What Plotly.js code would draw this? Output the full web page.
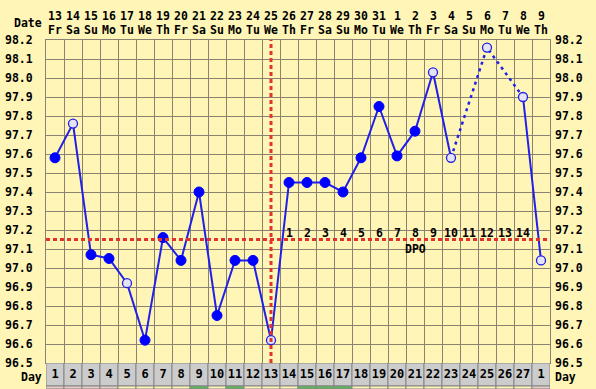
<!DOCTYPE html>
<html><head><meta charset="utf-8">
<script src="https://cdn.plot.ly/plotly-3.0.1.min.js"></script>
<style>html,body{margin:0;padding:0;background:#FEF5B7;}#chart{width:596px;height:389px;}</style>
</head><body><div id="chart"></div>
<script>
const days = Array.from({length: 28}, (_, i) => i + 1);
const dayLabels = ['1','2','3','4','5','6','7','8','9','10','11','12','13','14','15','16','17','18','19','20','21','22','23','24','25','26','27','1'];
const dates = ['13','14','15','16','17','18','19','20','21','22','23','24','25','26','27','28','29','30','31','1','2','3','4','5','6','7','8','9'];
const weekdays = ['Fr','Sa','Su','Mo','Tu','We','Th','Fr','Sa','Su','Mo','Tu','We','Th','Fr','Sa','Su','Mo','Tu','We','Th','Fr','Sa','Su','Mo','Tu','We','Th'];
const temps = [97.58, 97.76, 97.07, 97.05, 96.92, 96.62, 97.16, 97.04, 97.40, 96.75, 97.04, 97.04, 96.62, 97.45, 97.45, 97.45, 97.40, 97.58, 97.85, 97.59, 97.72, 98.03, 97.58, null, 98.16, null, 97.90, 97.04];
const hollow = [false, true, false, false, true, false, false, false, false, false, false, false, true, false, false, false, false, false, false, false, false, true, true, false, true, false, true, true];
const stripColors = ['#E8CCC4','#E8CCC4','#E8CCC4','#E8CCC4','#FEF5B7','#FEF5B7','#FEF5B7','#FEF5B7','#5DB85D','#FEF5B7','#5DB85D','#FEF5B7','#FEF5B7','#FEF5B7','#5DB85D','#5DB85D','#5DB85D','#FEF5B7','#FEF5B7','#FEF5B7','#FEF5B7','#FEF5B7','#FEF5B7','#FEF5B7','#FEF5B7','#FEF5B7','#FEF5B7','#E8CCC4'];
const coverline = 97.15;
const ovulationDay = 13;
const dpoDays = days.slice(13, 27);
const dpoLabels = dpoDays.map((d, i) => String(i + 1));
const dpoTextDay = 21;
const yTicks = [96.5,96.6,96.7,96.8,96.9,97.0,97.1,97.2,97.3,97.4,97.5,97.6,97.7,97.8,97.9,98.0,98.1,98.2];

const BG = '#FEF5B7', GRID = '#8C8274', BLUE = '#2020E8', RED = '#E0342C';
const FONT = {family: 'DejaVu Sans Mono', size: 11.5, color: '#000', weight: 'bold'};

const solid1x = [], solid1y = [];
for (let i = 0; i < 23; i++) { solid1x.push(days[i]); solid1y.push(temps[i]); }
const dotX = [days[22], days[24], days[26]], dotY = [temps[22], temps[24], temps[26]];
const solid2x = [days[26], days[27]], solid2y = [temps[26], temps[27]];

const fx = [], fy = [], hx = [], hy = [];
days.forEach((d, i) => { if (temps[i] !== null) { if (hollow[i]) { hx.push(d); hy.push(temps[i]); } else { fx.push(d); fy.push(temps[i]); } } });

const traces = [
  {x: solid1x, y: solid1y, mode: 'lines', line: {color: BLUE, width: 2}, xaxis: 'x', yaxis: 'y', hoverinfo: 'skip', showlegend: false},
  {x: dotX, y: dotY, mode: 'lines', line: {color: BLUE, width: 2.5, dash: '3px,4px'}, xaxis: 'x', yaxis: 'y', hoverinfo: 'skip', showlegend: false},
  {x: solid2x, y: solid2y, mode: 'lines', line: {color: BLUE, width: 2}, xaxis: 'x', yaxis: 'y', hoverinfo: 'skip', showlegend: false},
  {x: fx, y: fy, mode: 'markers', marker: {color: '#0000FF', size: 10, opacity: 1, line: {color: '#0000FF', width: 1}}, cliponaxis: false, xaxis: 'x', yaxis: 'y', hoverinfo: 'skip', showlegend: false},
  {x: hx, y: hy, mode: 'markers', marker: {color: '#E4E4F6', size: 9, opacity: 1, line: {color: BLUE, width: 1.3}}, cliponaxis: false, xaxis: 'x', yaxis: 'y', hoverinfo: 'skip', showlegend: false},
  {x: days, y: days.map(() => 23), base: 3, type: 'bar', width: 1, marker: {color: '#CCCCCC', line: {color: '#858585', width: 1}}, text: dayLabels, textposition: 'inside', insidetextanchor: 'middle', textangle: 0, constraintext: 'none', textfont: {family: 'DejaVu Sans Mono', size: 12, color: '#000', weight: 'bold'}, xaxis: 'x', yaxis: 'y2', hoverinfo: 'skip', showlegend: false},
  {x: days, y: days.map(() => 3), base: 0, type: 'bar', width: 1, marker: {color: stripColors, line: {color: '#858585', width: 1}}, xaxis: 'x', yaxis: 'y2', hoverinfo: 'skip', showlegend: false},
  {x: [1], y: [97], mode: 'markers', marker: {opacity: 0}, xaxis: 'x', yaxis: 'y3', hoverinfo: 'skip', showlegend: false}
];

const ann = [];
days.forEach((d, i) => {
  ann.push({x: d, y: 1.0688, xref: 'x', yref: 'paper', text: dates[i], showarrow: false, font: FONT, xanchor: 'center', yanchor: 'middle'});
  ann.push({x: d, y: 1.0287, xref: 'x', yref: 'paper', text: weekdays[i], showarrow: false, font: FONT, xanchor: 'center', yanchor: 'middle'});
});
ann.push({x: -0.004, y: 1.048, xref: 'paper', yref: 'paper', text: 'Date', showarrow: false, font: FONT, xanchor: 'right', yanchor: 'middle'});
ann.push({x: -0.004, y: 0.035, xref: 'paper', yref: 'paper', text: 'Day', showarrow: false, font: FONT, xanchor: 'right', yanchor: 'middle'});
ann.push({x: 1.006, y: 0.033, xref: 'paper', yref: 'paper', text: 'Day', showarrow: false, font: FONT, xanchor: 'left', yanchor: 'middle'});
dpoDays.forEach((d, i) => {
  ann.push({x: d, y: coverline, xref: 'x', yref: 'y', text: dpoLabels[i], showarrow: false, font: FONT, xanchor: 'center', yanchor: 'middle', yshift: 7});
});
ann.push({x: dpoTextDay, y: coverline, xref: 'x', yref: 'y', text: 'DPO', showarrow: false, font: FONT, xanchor: 'center', yanchor: 'middle', yshift: -9});

const layout = {
  width: 596, height: 389,
  margin: {l: 46, r: 46, t: 40, b: 0, pad: 0},
  paper_bgcolor: BG, plot_bgcolor: BG,
  barmode: 'overlay',
  font: FONT,
  xaxis: {range: [0.5, 28.5], tickvals: days.map(d => d - 0.5).concat([28.5]), showticklabels: false, ticks: '', showgrid: true, gridcolor: GRID, gridwidth: 1, zeroline: false, showline: true, mirror: true, linecolor: GRID, linewidth: 1, anchor: 'y', fixedrange: true},
  yaxis: {domain: [0.0745, 1], range: [96.5, 98.2], tickvals: yTicks, tickformat: '.1f', ticks: '', ticklabelstandoff: 10, showgrid: true, gridcolor: GRID, gridwidth: 1, zeroline: false, showline: true, mirror: true, linecolor: GRID, tickfont: FONT, fixedrange: true},
  yaxis3: {overlaying: 'y', side: 'right', range: [96.5, 98.2], tickvals: yTicks, tickformat: '.1f', ticks: '', ticklabelstandoff: 4, showgrid: false, zeroline: false, tickfont: FONT, fixedrange: true},
  yaxis2: {domain: [0, 0.0745], range: [0, 26], showticklabels: false, ticks: '', showgrid: false, zeroline: false, fixedrange: true},
  shapes: [
    {type: 'line', xref: 'x domain', yref: 'y', x0: 0, x1: 1, y0: coverline, y1: coverline, line: {color: RED, width: 3, dash: '4px,3px'}},
    {type: 'line', xref: 'x', yref: 'y', x0: ovulationDay, x1: ovulationDay, y0: 96.5, y1: 98.2, line: {color: RED, width: 3, dash: '4px,3px'}}
  ],
  annotations: ann
};
Plotly.newPlot('chart', traces, layout, {displayModeBar: false, staticPlot: true});
</script></body></html>
